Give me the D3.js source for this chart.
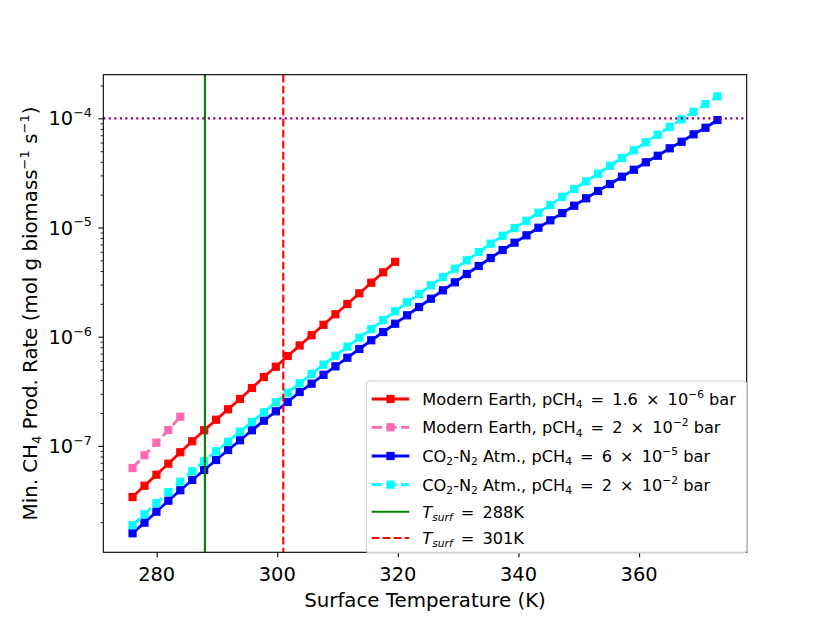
<!DOCTYPE html>
<html>
<head>
<meta charset="utf-8">
<script src="https://cdn.jsdelivr.net/npm/d3@7"></script>
<style>
  body { margin: 0; background: #fff; }
  text { font-family: "DejaVu Sans", sans-serif; }
</style>
</head>
<body>
<script>
// ---- data ----
const temps = [276.00, 277.98, 279.96, 281.94, 283.92, 285.90, 287.88, 289.86, 291.84, 293.82,
  295.80, 297.78, 299.76, 301.73, 303.71, 305.69, 307.67, 309.65, 311.63, 313.61,
  315.59, 317.57, 319.55, 321.53, 323.51, 325.49, 327.47, 329.45, 331.43, 333.41,
  335.39, 337.37, 339.35, 341.33, 343.31, 345.29, 347.27, 349.24, 351.22, 353.20,
  355.18, 357.16, 359.14, 361.12, 363.10, 365.08, 367.06, 369.04, 371.02, 373.00];

// Modern Earth, pCH4 = 1.6e-6 bar
const modernLow = [3.40e-8, 4.32e-8, 5.45e-8, 6.87e-8, 8.74e-8, 1.102e-7, 1.39e-7, 1.737e-7,
  2.164e-7, 2.689e-7, 3.39e-7, 4.27e-7, 5.31e-7, 6.66e-7, 8.31e-7, 1.032e-6, 1.285e-6,
  1.604e-6, 1.993e-6, 2.496e-6, 3.123e-6, 3.888e-6, 4.85e-6];

// Modern Earth, pCH4 = 2e-2 bar
const modernHigh = [6.27e-8, 8.20e-8, 1.07e-7, 1.398e-7, 1.85e-7];

// CO2-N2 atm, pCH4 = 6e-5 bar
const co2Low = [1.584e-8, 1.981e-8, 2.497e-8, 3.148e-8, 3.922e-8, 4.872e-8, 6.017e-8, 7.428e-8,
  9.17e-8, 1.125e-7, 1.390e-7, 1.701e-7, 2.074e-7, 2.523e-7, 3.115e-7, 3.711e-7, 4.477e-7,
  5.356e-7, 6.42e-7, 7.716e-7, 9.27e-7, 1.104e-6, 1.315e-6, 1.570e-6, 1.871e-6, 2.228e-6,
  2.66e-6, 3.148e-6, 3.752e-6, 4.44e-6, 5.256e-6, 6.22e-6, 7.26e-6, 8.48e-6, 9.96e-6,
  1.164e-5, 1.358e-5, 1.584e-5, 1.851e-5, 2.159e-5, 2.503e-5, 2.919e-5, 3.383e-5, 3.956e-5,
  4.545e-5, 5.313e-5, 6.105e-5, 7.137e-5, 8.20e-5, 9.65e-5];

// CO2-N2 atm, pCH4 = 2e-2 bar
const co2High = [1.875e-8, 2.363e-8, 2.981e-8, 3.760e-8, 4.701e-8, 5.854e-8, 7.228e-8, 8.92e-8,
  1.093e-7, 1.349e-7, 1.655e-7, 2.031e-7, 2.508e-7, 3.07e-7, 3.743e-7, 4.553e-7, 5.54e-7,
  6.70e-7, 8.10e-7, 9.79e-7, 1.176e-6, 1.422e-6, 1.708e-6, 2.065e-6, 2.46e-6, 2.956e-6,
  3.522e-6, 4.194e-6, 5.006e-6, 5.964e-6, 7.106e-6, 8.41e-6, 9.89e-6, 1.154e-5, 1.366e-5,
  1.607e-5, 1.914e-5, 2.253e-5, 2.649e-5, 3.109e-5, 3.680e-5, 4.329e-5, 5.093e-5, 6.028e-5,
  7.077e-5, 8.323e-5, 9.79e-5, 1.149e-4, 1.352e-4, 1.590e-4];

const xTicks = [280, 300, 320, 340, 360];
const yTicks = [1e-7, 1e-6, 1e-5, 1e-4];
const yTickExp = ["−7", "−6", "−5", "−4"];
const tRef = [288, 301];
const rateLimit = 1e-4;

// ---- layout ----
const W = 830, H = 623;
const L = 103.3, R = 746.7, T = 74.7, B = 552.3;
const fsTick = 19.4, fsLab = 19.8, fsLeg = 16.2;

const x = d3.scaleLinear().domain([271.15, 377.85]).range([L, R]);
const y = d3.scaleLog().domain([1.06e-8, 2.51e-4]).range([B, T]);

const svg = d3.select("body").append("svg")
  .attr("width", W).attr("height", H)
  .style("background", "#fff");

// mathtext-ish helper: parts = [{t, sub, sup, it, op}]
function rich(sel, parts, fs) {
  let shift = 0, pad = 0;
  parts.forEach(p => {
    const target = p.sub ? fs * 0.22 : p.sup ? -fs * 0.42 : 0;
    const ts = sel.append("tspan").attr("dy", target - shift).text(p.t);
    shift = target;
    if (p.sub || p.sup) ts.attr("font-size", fs * 0.66);
    if (p.it) ts.attr("font-style", "italic");
    const gap = p.op ? fs * 0.18 : 0;
    if (pad + gap) ts.attr("dx", pad + gap);
    pad = gap;
  });
}

// ---- series ----
const series = [
  { vals: modernLow, color: "#ff0000", dash: null },
  { vals: modernHigh, color: "#ff69b4", dash: "10.3,4.4" },
  { vals: co2Low, color: "#0000ff", dash: null },
  { vals: co2High, color: "#00ffff", dash: "10.3,4.4" }
];

const line = d3.line().x(d => x(d[0])).y(d => y(d[1]));
const ms = 7;

series.forEach(s => {
  const pts = s.vals.map((v, i) => [temps[i], v]);
  const g = svg.append("g");
  g.append("path")
    .attr("d", line(pts))
    .attr("fill", "none")
    .attr("stroke", s.color)
    .attr("stroke-width", 2.8)
    .attr("stroke-dasharray", s.dash);
  g.selectAll("rect").data(pts).join("rect")
    .attr("x", d => x(d[0]) - ms / 2)
    .attr("y", d => y(d[1]) - ms / 2)
    .attr("width", ms).attr("height", ms)
    .attr("fill", s.color)
    .attr("stroke", s.color)
    .attr("stroke-width", 1.2);
});

// reference lines
svg.append("line")
  .attr("x1", x(tRef[0])).attr("x2", x(tRef[0]))
  .attr("y1", T).attr("y2", B)
  .attr("stroke", "#008000").attr("stroke-width", 2.1);
svg.append("line")
  .attr("x1", x(tRef[1])).attr("x2", x(tRef[1]))
  .attr("y1", T).attr("y2", B)
  .attr("stroke", "#ff0000").attr("stroke-width", 2.1)
  .attr("stroke-dasharray", "7.7,3.3");
svg.append("line")
  .attr("x1", L).attr("x2", R)
  .attr("y1", y(rateLimit)).attr("y2", y(rateLimit))
  .attr("stroke", "#800080").attr("stroke-width", 2.1)
  .attr("stroke-dasharray", "2.1,3.4");

// ---- axes ----
const xAxis = svg.append("g")
  .attr("transform", `translate(0,${B})`)
  .call(d3.axisBottom(x).tickValues(xTicks).tickSize(4.9).tickSizeOuter(0).tickFormat(""));
xAxis.select(".domain").remove();
xAxis.selectAll("line").attr("stroke", "#000").attr("stroke-width", 1.1);

svg.append("g").selectAll("text").data(xTicks).join("text")
  .attr("x", d => x(d)).attr("y", 580.7)
  .attr("text-anchor", "middle")
  .attr("font-size", fsTick)
  .text(d => d);

// minor log ticks
const minors = [];
for (let e = -9; e <= -3; e++) {
  for (let k = 2; k <= 9; k++) {
    const v = k * Math.pow(10, e);
    if (v >= y.domain()[0] && v <= y.domain()[1]) minors.push(v);
  }
}
const yMinor = svg.append("g")
  .attr("transform", `translate(${L},0)`)
  .call(d3.axisLeft(y).tickValues(minors).tickSize(2.8).tickSizeOuter(0).tickFormat(""));
yMinor.select(".domain").remove();
yMinor.selectAll("line").attr("stroke", "#000").attr("stroke-width", 0.85);

const yMajor = svg.append("g")
  .attr("transform", `translate(${L},0)`)
  .call(d3.axisLeft(y).tickValues(yTicks).tickSize(4.9).tickSizeOuter(0).tickFormat(""));
yMajor.select(".domain").remove();
yMajor.selectAll("line").attr("stroke", "#000").attr("stroke-width", 1.1);

yTicks.forEach((v, i) => {
  const t = svg.append("text")
    .attr("x", 92).attr("y", y(v) + 7)
    .attr("text-anchor", "end")
    .attr("font-size", fsTick);
  rich(t, [{ t: "10" }, { t: yTickExp[i], sup: true }], fsTick);
});

// frame
svg.append("rect")
  .attr("x", L).attr("y", T)
  .attr("width", R - L).attr("height", B - T)
  .attr("fill", "none").attr("stroke", "#000").attr("stroke-width", 1.1);

// axis labels
svg.append("text")
  .attr("x", (L + R) / 2).attr("y", 607)
  .attr("text-anchor", "middle")
  .attr("font-size", fsLab)
  .text("Surface Temperature (K)");

const yl = svg.append("text")
  .attr("transform", `translate(37,${(T + B) / 2}) rotate(-90)`)
  .attr("text-anchor", "middle")
  .attr("font-size", fsLab);
rich(yl, [
  { t: "Min. CH" }, { t: "4", sub: true }, { t: " Prod. Rate (mol g biomass" },
  { t: "−1", sup: true }, { t: " s" }, { t: "−1", sup: true }, { t: ")" }
], fsLab);

// ---- legend ----
const legend = [
  { color: "#ff0000", dash: null, marker: true,
    parts: [{ t: "Modern Earth, pCH" }, { t: "4", sub: true }, { t: " = ", op: true }, { t: "1.6" }, { t: " × ", op: true }, { t: "10" }, { t: "−6", sup: true }, { t: " bar" }] },
  { color: "#ff69b4", dash: "10.3,4.4", marker: true,
    parts: [{ t: "Modern Earth, pCH" }, { t: "4", sub: true }, { t: " = ", op: true }, { t: "2" }, { t: " × ", op: true }, { t: "10" }, { t: "−2", sup: true }, { t: " bar" }] },
  { color: "#0000ff", dash: null, marker: true,
    parts: [{ t: "CO" }, { t: "2", sub: true }, { t: "-N" }, { t: "2", sub: true }, { t: " Atm., pCH" }, { t: "4", sub: true }, { t: " = ", op: true }, { t: "6" }, { t: " × ", op: true }, { t: "10" }, { t: "−5", sup: true }, { t: " bar" }] },
  { color: "#00ffff", dash: "10.3,4.4", marker: true,
    parts: [{ t: "CO" }, { t: "2", sub: true }, { t: "-N" }, { t: "2", sub: true }, { t: " Atm., pCH" }, { t: "4", sub: true }, { t: " = ", op: true }, { t: "2" }, { t: " × ", op: true }, { t: "10" }, { t: "−2", sup: true }, { t: " bar" }] },
  { color: "#008000", dash: null, marker: false,
    parts: [{ t: "T", it: true }, { t: "surf", sub: true, it: true }, { t: " = ", op: true }, { t: "288K" }] },
  { color: "#ff0000", dash: "7.7,3.3", marker: false,
    parts: [{ t: "T", it: true }, { t: "surf", sub: true, it: true }, { t: " = ", op: true }, { t: "301K" }] }
];
const rowY = [399, 427.3, 456, 484.7, 511.7, 538];

const lg = svg.append("g");
lg.append("rect")
  .attr("x", 366.5).attr("y", 381)
  .attr("width", 380).attr("height", 172)
  .attr("rx", 3)
  .attr("fill", "rgba(255,255,255,0.8)")
  .attr("stroke", "#d0d0d0").attr("stroke-width", 1.1);

legend.forEach((d, i) => {
  const cy = rowY[i];
  lg.append("line")
    .attr("x1", 371.7).attr("x2", 409.3)
    .attr("y1", cy).attr("y2", cy)
    .attr("stroke", d.color)
    .attr("stroke-width", d.marker ? 2.8 : 2.1)
    .attr("stroke-dasharray", d.dash);
  if (d.marker) {
    lg.append("rect")
      .attr("x", 390.5 - ms / 2).attr("y", cy - ms / 2)
      .attr("width", ms).attr("height", ms)
      .attr("fill", d.color).attr("stroke", d.color).attr("stroke-width", 1.2);
  }
  const t = lg.append("text")
    .attr("x", 422.3).attr("y", cy + 5.8)
    .attr("font-size", fsLeg);
  rich(t, d.parts, fsLeg);
});
</script>
</body>
</html>
